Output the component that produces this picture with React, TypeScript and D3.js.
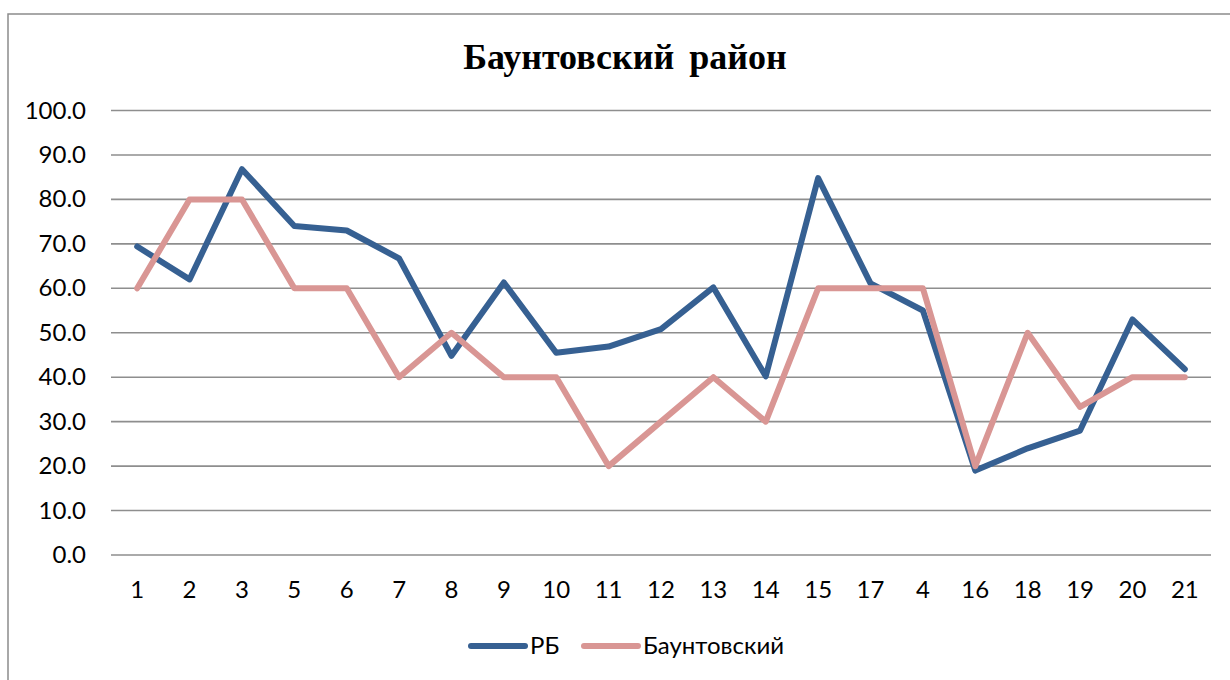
import * as d3 from "d3";
import {useEffect, useRef} from "react";

const categories = ["1", "2", "3", "5", "6", "7", "8", "9", "10", "11", "12", "13", "14", "15", "17", "4", "16", "18", "19", "20", "21"];
const rbValues = [69.4, 62.0, 86.8, 74.0, 73.0, 66.7, 44.8, 61.3, 45.5, 46.9, 50.8, 60.2, 40.2, 84.8, 61.1, 55.0, 19.0, 24.0, 28.0, 53.0, 41.8];
const bauntValues = [60, 80, 80, 60, 60, 40, 50, 40, 40, 20, 30, 40, 30, 60, 60, 60, 20, 50, 33.3, 40, 40];
const yTicks = [0, 10, 20, 30, 40, 50, 60, 70, 80, 90, 100];

const series = [
    {name: "РБ", values: rbValues, color: "#366092"},
    {name: "Баунтовский", values: bauntValues, color: "#d99694"},
];

const W = 1230, H = 680;
const labelFont = "Lato, 'Open Sans', sans-serif";

function App() {
    const svgRef = useRef(null);

    useEffect(() => {
        const svg = d3.select(svgRef.current);
        svg.selectAll("*").remove();

        // рамка диаграммы
        svg.append("rect")
            .attr("x", 8).attr("y", 14)
            .attr("width", 1240).attr("height", 700)
            .attr("fill", "#fff")
            .attr("stroke", "#8c8c8c")
            .attr("stroke-width", 1.5);

        svg.append("text")
            .attr("x", 625).attr("y", 69)
            .attr("text-anchor", "middle")
            .attr("font-family", "'Liberation Serif', 'DejaVu Serif', serif")
            .attr("font-weight", "bold")
            .attr("font-size", 36)
            .attr("word-spacing", 6)
            .text("Баунтовский район");

        const x = d3.scaleBand()
            .domain(categories)
            .range([111, 1211])
            .padding(0);
        const cx = d => x(d) + x.bandwidth() / 2;

        const y = d3.scaleLinear()
            .domain([0, 100])
            .range([555, 110.5]);

        // сетка
        svg.append("g")
            .selectAll("line")
            .data(yTicks)
            .enter()
            .append("line")
            .attr("x1", 111).attr("x2", 1211)
            .attr("y1", d => y(d)).attr("y2", d => y(d))
            .attr("stroke", "#8e8e8e")
            .attr("stroke-width", 1.6);

        svg.append("g")
            .selectAll("text")
            .data(yTicks)
            .enter()
            .append("text")
            .attr("x", 86)
            .attr("y", d => y(d) + 8)
            .attr("text-anchor", "end")
            .attr("font-family", labelFont)
            .attr("font-size", 24)
            .text(d => d.toFixed(1));

        svg.append("g")
            .selectAll("text")
            .data(categories)
            .enter()
            .append("text")
            .attr("x", d => cx(d))
            .attr("y", 598)
            .attr("text-anchor", "middle")
            .attr("font-family", labelFont)
            .attr("font-size", 24)
            .text(d => d);

        const line = d3.line()
            .x((d, i) => cx(categories[i]))
            .y(d => y(d));

        series.forEach(s => {
            svg.append("path")
                .datum(s.values)
                .attr("d", line)
                .attr("fill", "none")
                .attr("stroke", s.color)
                .attr("stroke-width", 6)
                .attr("stroke-linejoin", "round")
                .attr("stroke-linecap", "round");
        });

        // легенда
        const legendX = [471, 584];
        series.forEach((s, i) => {
            const g = svg.append("g").attr("transform", `translate(${legendX[i]},646)`);
            g.append("line")
                .attr("x1", 0).attr("x2", 54)
                .attr("stroke", s.color)
                .attr("stroke-width", 6)
                .attr("stroke-linecap", "round");
            g.append("text")
                .attr("x", 59).attr("y", 8)
                .attr("font-family", labelFont)
                .attr("font-size", 24)
                .text(s.name);
        });
    }, []);

    return (
        <svg
            ref={svgRef}
            width={W}
            height={H}
            style={{position: "absolute", left: 0, top: 0, background: "#fff"}}
        />
    );
}

export default App;
